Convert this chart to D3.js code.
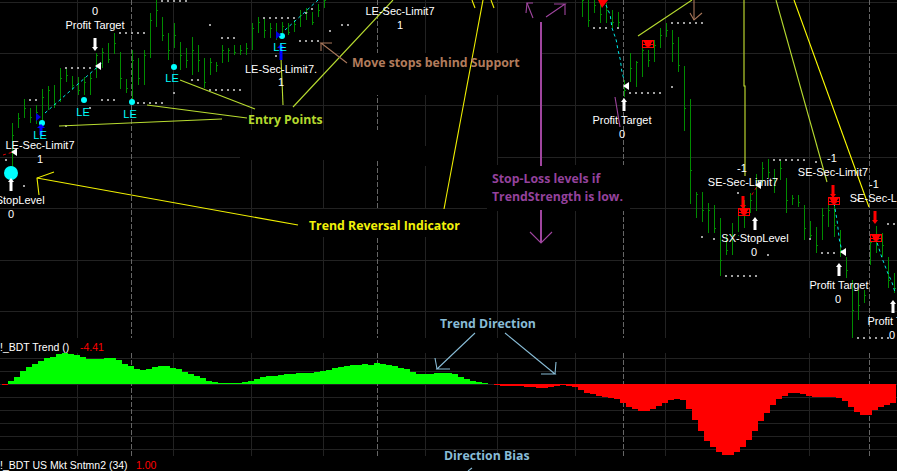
<!DOCTYPE html>
<html><head><meta charset="utf-8">
<script src="https://cdnjs.cloudflare.com/ajax/libs/d3/7.8.5/d3.min.js"></script>
<style>html,body{margin:0;padding:0;background:#000;overflow:hidden}svg{display:block}
text{font-family:"Liberation Sans",Arial,sans-serif}
.note{font-family:"Open Sans","Noto Sans",sans-serif;font-weight:700;font-size:12.3px}</style>
</head><body><svg id="c" width="897" height="471"></svg>
<script>
// ---- OHLC price bars (price levels; null = bar out of the visible price window)
const barHigh=[170,217,227,241,232,235,251,254,255,272,271,264,263,263,267,287,292,297,307,288,261,290,282,290,327,350,323,307,317,298,292,303,295,282,282,278,295,292,295,295,297,317,323,322,317,317,318,317,320,330,332,328,336,345,
null,null,null,null,null,null,null,null,null,null,null,null,null,null,null,null,null,null,null,null,null,null,null,null,null,null,null,null,null,null,null,null,null,null,null,null,null,null,null,null,null,null,
345,345,345,337,337,330,328,260,287,279,297,290,300,312,317,310,303,274,241,148,148,137,135,122,105,117,132,140,147,166,178,181,171,179,162,145,145,135,119,113,132,135,138,110,83,60,50,50,101,114,107,83,67];
const barLow=[163,165,212,222,217,216,217,230,232,238,258,250,245,245,245,262,272,277,286,251,247,240,255,255,282,313,299,280,292,270,272,265,268,252,265,268,277,278,285,285,285,290,307,302,302,300,307,305,308,313,320,315,323,332,
null,null,null,null,null,null,null,null,null,null,null,null,null,null,null,null,null,null,null,null,null,null,null,null,null,null,null,null,null,null,null,null,null,null,null,null,null,null,null,null,null,null,
323,313,327,317,317,312,312,243,258,253,263,273,278,292,303,278,268,209,136,122,118,107,107,64,85,85,108,112,127,129,157,162,147,160,127,135,133,100,100,87,100,113,103,83,62,2,20,37,75,87,83,52,47];
const barOpen=[167,175,214,225,229,221,226,241,250,240,262,262,255,250,258,265,282,287,288,287,260,252,280,262,285,320,320,305,295,297,285,280,290,280,270,272,278,288,290,288,290,292,312,318,308,312,308,314,310,316,325,326,325,333,
null,null,null,null,null,null,null,null,null,null,null,null,null,null,null,null,null,null,null,null,null,null,null,null,null,null,null,null,null,null,null,null,null,null,null,null,null,null,null,null,null,null,
330,340,330,330,326,328,320,255,260,265,278,288,282,295,305,308,297,273,232,140,145,125,130,112,95,90,105,125,130,140,160,172,168,162,160,140,142,134,112,105,102,125,130,105,80,60,40,38,80,98,105,80,60];
const barClose=[166,205,222,232,223,228,243,250,236,262,265,255,250,258,262,285,288,281,297,262,252,280,262,285,320,330,305,290,305,285,280,290,280,258,278,275,290,290,288,290,292,312,318,310,312,306,314,308,316,325,328,318,330,340,
null,null,null,null,null,null,null,null,null,null,null,null,null,null,null,null,null,null,null,null,null,null,null,null,null,null,null,null,null,null,null,null,null,null,null,null,null,null,null,null,null,null,
340,320,335,326,330,318,318,250,272,278,290,280,295,305,310,297,275,232,170,146,130,130,112,80,90,105,125,130,140,160,172,168,155,172,140,142,138,112,105,95,125,130,115,90,70,30,35,45,98,105,95,60,52];
// ---- Trend histogram
const trendValues=[-1,3,7,13,17,20,23,26,27,30,31,30,29,27,25,25,25,26,26,24,20,18,15,14,15,17,18,18,16,15,12,10,8,6,3,2,1,1,1,1,2,3,5,7,8,8,9,10,10,11,11,11,12,13,14,16,17,18,19,19,20,19,21,20,19,18,16,15,12,10,10,10,11,11,11,10,7,5,3,2,1,
-0.4,-1,-2,-2,-2,-2,-3,-3,-4,-4,-3,-2,-1,-2,-3,-6,-9,-10,-12,-13,-14,-15,-19,-23,-25,-27,-27,-25,-22,-19,-16,-15,-16,-25,-36,-47,-57,-63,-68,-71,-71,-68,-63,-56,-47,-37,-29,-21,-15,-12,-9,-9,-10,-12,-13,-13,-13,-13,-14,-17,-23,-28,-31,-31,-26,-23,-21,-19];
// ---- Grid
const priceGrid=[338,287,235,183,132,80,29];
const trendGrid=[26,13,0,-13,-26,-39,-52,-65];
const solidTimes=[12,28,41,53,70,82,95,110,134];
const dashedTimes=[21,62,103,144];
// ---- Stop dots: [first bar, last bar, level]
const stopRuns=[[10,14,272],[19,23,307],[4,5,240],[16,18,240],[22,26,237],[34,39,250],[31,32,260],[28,28,247],[26,30,339],[34,34,315],[36,38,302],[43,48,322],[45,45,284],[49,49,299],[0,0,180],[3,3,154],[10,10,214],[14,14,232],[50,52,299],[54,54,309],[56,57,315],[50,50,327],[51,51,331],[98,100,312],[102,102,312],[104,109,247],[111,111,253],[111,116,317],[128,133,180],[135,135,178],[120,125,64],[116,116,103],[118,118,101],[122,122,147],[127,127,85],[136,138,87],[134,134,101],[142,142,140],[147,148,116],[142,147,2]];
// ---- Long entries [bar, level], short entries [bar, level]
const longEntries=[[6,217],[13,240],[21,238],[28,273],[46,304]];
const shortEntries=[[107,296],[123,128],[138,139],[145,102]];
// ---- Stop trails [bar, level]
const cyanTrails=[[[6.5,227],[16,277]],[[46.5,310],[48,318],[52,340]],
 [[100,335],[100.7,325],[101,312],[101.7,300],[102,290],[102.4,280],[102.6,270],[103,260]],
 [[138,137],[138.5,120],[138.9,100],[139.4,87]],[[145.2,97],[146,82],[146.9,68],[147.7,57],[148.2,47]]];
const redTrails=[[[-0.5,185],[1.2,188]],[[124.3,145],[125.3,155]]];
// ---- Text labels
const labels=[["0",95,11],["Profit Target",95,25],["LE-Sec-Limit7",40,145],["1",40,159],["SX-StopLevel",11,200],["0",11,214],
["LE-Sec-Limit7.",281,69],["1",281,82],["LE-Sec-Limit7",400,11],["1",400,25],["Profit Target",622,120],["0",622,134],
["-1",742,168],["SE-Sec-Limit7",743,182],["SX-StopLevel",755,238],["0",754,252],["-1",832,158],["SE-Sec-Limit7",833,172],
["-1",874,184],["SE-Sec-Limit7",885,198],["Profit Target",897,321],["Profit Target",839,285],["0",838,299],["0",892,335]];
const leLabels=[[40,135],[83,112],[130,114],[172,78],[280,47]];
const whiteUp=[[11,178],[624,98],[755,217],[839,263],[893,300]];
const whiteDown=[[95,38]];
const whiteLeft=[[14,152],[98,66],[626,86],[758,185],[843,252]];
const redDown=[[743,196],[833,185],[875,211]];
const notes=[["Entry Points",248,124,"#b4d82e"],["Trend Reversal Indicator",309,230,"#f2f20a"],["Move stops behind Support",352,67,"#b27c5c"],
["Stop-Loss levels if",492,183,"#94429c"],["TrendStrength is low.",492,201,"#94429c"],["Trend Direction",440,328,"#88bcd6"],["Direction Bias",444,460,"#88bcd6"]];
const noteLines=[
 ["#b8dc30",[[59,126],[222,119]]],["#b8dc30",[[147,105],[247,118]]],["#b8dc30",[[180,80],[255,109]]],
 ["#b8dc30",[[281,58],[283,105]]],["#b8dc30",[[293,107],[393,0]]],["#b8dc30",[[638,36],[692,0]]],
 ["#c8e432",[[744,0],[744,86],[745,86],[745,176]]],["#b8dc30",[[776,0],[827,182]]],["#ffff00",[[794,0],[869,207]]],
 ["#f0f000",[[37,178],[298,225]]],["#f0f000",[[54,172],[37,178],[39,195]]],["#f0f000",[[444,209],[483,0]]],["#f0f000",[[472,0],[475,8]]],["#f0f000",[[491,0],[494,8]]],
 ["#a0459f",[[533,18],[527,3],[533,3]]],["#a0459f",[[527,3],[526,13]]],["#a0459f",[[546,17],[565,4],[554,4]]],["#a0459f",[[565,4],[565,15]]],["#a0459f",[[615,97],[620,127]]],
 ["#a0459f",[[530,232],[541,243],[552,232]]],
 ["#a8765a",[[347,63],[321,43],[332,43]]],["#a8765a",[[321,43],[321,51]]],["#a8765a",[[694,0],[694,20]]],["#a8765a",[[690,13],[694,20],[702,13]]],
 ["#88bcd6",[[475,333],[437,369],[450,369]]],["#88bcd6",[[437,369],[435,358]]],["#88bcd6",[[505,333],[555,374],[541,374]]],["#88bcd6",[[555,374],[556,362]]],["#88bcd6",[[468,471],[472,468]]]];
const noteBars=[[541,22,166],[541,210,243]];
const masks=[[240,130,147,30],[387,146,110,20],[340,53,200,42],[487,165,143,46],[302,209,185,28],[543,165,90,5]];

const svg=d3.select("#c");
svg.append("rect").attr("width",897).attr("height",471).attr("fill","#000");
const xBar=d3.scaleLinear().domain([0,148]).range([6,894]);
const yPrice=d3.scaleLinear().domain([0,340]).range([340,0]);
const xHist=d3.scaleBand().domain(d3.range(trendValues.length)).range([2,896]);
const yTrend=d3.scaleLinear().domain([-71,31]).range([455,353]);
const crisp=s=>s.attr("shape-rendering","crispEdges");
const grid=crisp(svg.append("g").attr("stroke","#222").attr("stroke-width",1));
grid.selectAll(".a").data(priceGrid).join("line").attr("class","a").attr("x1",0).attr("x2",897).attr("y1",d=>Math.round(yPrice(d))+.5).attr("y2",d=>Math.round(yPrice(d))+.5);
grid.selectAll(".b").data(trendGrid).join("line").attr("class","b").attr("x1",0).attr("x2",897).attr("y1",d=>Math.round(yTrend(d))+.5).attr("y2",d=>Math.round(yTrend(d))+.5);
const xT=d=>Math.round(xBar(d))-1.5+.5;
[[0,338],[353,456]].forEach(([a,b],k)=>{
 grid.selectAll(".s"+k).data(solidTimes).join("line").attr("class","s"+k).attr("x1",xT).attr("x2",xT).attr("y1",a).attr("y2",b);
 grid.selectAll(".d"+k).data(dashedTimes).join("line").attr("class","d"+k).attr("x1",xT).attr("x2",xT).attr("y1",a).attr("y2",b).attr("stroke","#666").attr("stroke-dasharray","5 2");
});
crisp(svg.append("g")).selectAll("rect").data(masks).join("rect").attr("x",d=>d[0]).attr("y",d=>d[1]).attr("width",d=>d[2]).attr("height",d=>d[3]).attr("fill","#000");
// histogram
crisp(svg.append("g")).selectAll("rect").data(trendValues).join("rect")
 .attr("x",(d,i)=>xHist(i)).attr("width",xHist.bandwidth()+.3)
 .attr("y",d=>d>=0?yTrend(d):yTrend(0)).attr("height",d=>Math.abs(yTrend(d)-yTrend(0)))
 .attr("fill",d=>d>=0?"#00ff00":"#ff0000");
// price bars
const bars=crisp(svg.append("g").attr("stroke","#008c00").attr("stroke-width",1));
barHigh.forEach((h,i)=>{ if(h==null) return;
 const x=Math.round(xBar(i))+.5;
 bars.append("line").attr("x1",x).attr("x2",x).attr("y1",yPrice(h)).attr("y2",yPrice(barLow[i]));
 bars.append("line").attr("x1",x-1).attr("x2",x).attr("y1",Math.round(yPrice(barOpen[i]))+.5).attr("y2",Math.round(yPrice(barOpen[i]))+.5);
 bars.append("line").attr("x1",x).attr("x2",x+1).attr("y1",Math.round(yPrice(barClose[i]))+.5).attr("y2",Math.round(yPrice(barClose[i]))+.5);
});
// stop dots
const dotData=stopRuns.flatMap(([a,b,l])=>d3.range(a,b+1).map(i=>[i,l]));
crisp(svg.append("g")).selectAll("rect").data(dotData).join("rect").attr("x",d=>xBar(d[0])-1).attr("y",d=>yPrice(d[1])-1).attr("width",2).attr("height",2).attr("fill","#a0a0a0");
// trails
const trail=d3.line().x(d=>xBar(d[0])).y(d=>yPrice(d[1]));
svg.append("g").attr("fill","none").attr("stroke","#00e8e8").attr("stroke-dasharray","3 3").selectAll("path").data(cyanTrails).join("path").attr("d",trail);
svg.append("g").attr("fill","none").attr("stroke","#e00000").attr("stroke-dasharray","3 3").selectAll("path").data(redTrails).join("path").attr("d",trail);
// note lines
const nl=d3.line();
svg.append("g").attr("fill","none").selectAll("path").data(noteLines).join("path").attr("d",d=>nl(d[1])).attr("stroke",d=>d[0]).attr("stroke-width",1.1);
svg.append("g").selectAll("line").data(noteBars).join("line").attr("x1",d=>d[0]).attr("x2",d=>d[0]).attr("y1",d=>d[1]).attr("y2",d=>d[2]).attr("stroke","#a0459f").attr("stroke-width",2);
// entry markers
const g=svg.append("g");
g.selectAll(".le").data(longEntries).join("circle").attr("class","le").attr("cx",d=>xBar(d[0])).attr("cy",d=>yPrice(d[1])).attr("r",3).attr("fill","#00ffff");
g.append("circle").attr("cx",11).attr("cy",173).attr("r",7).attr("fill","#00ffff");
[[37,117],[277,35]].forEach(([x,y])=>g.append("path").attr("d",d3.line()([[x-1,y-4],[x+4,y],[x-1,y+4]])).attr("fill","#0000e0"));
[[41,124,11],[281,44,16]].forEach(([x,y,h])=>{g.append("rect").attr("x",x-1.5).attr("y",y+3).attr("width",3).attr("height",h-3).attr("fill","#0000ff");
 g.append("path").attr("d",d3.line()([[x-4,y+4],[x,y],[x+4,y+4]])).attr("fill","#0000ff");});
shortEntries.forEach(([b,l])=>{const x=xBar(b),y=yPrice(l);
 const m=crisp(g.append("g").attr("stroke","#ff0000").attr("fill","none"));
 m.append("rect").attr("x",x-5.5).attr("y",y-3.5).attr("width",11).attr("height",7);
 m.append("line").attr("x1",x-5.5).attr("x2",x+5.5).attr("y1",y).attr("y2",y);
 g.append("path").attr("d",d3.line()([[x-5,y-3],[x+5,y-3],[x,y+3]])).attr("fill","#ff0000");
 g.append("circle").attr("cx",x).attr("cy",y).attr("r",3).attr("fill","#ff0000");});
g.append("path").attr("d",d3.line()([[598,0],[608,0],[602,8]])).attr("fill","#ff0000");
// block arrows
const up=([x,y],c)=>g.append("path").attr("d",d3.line()([[x,y],[x+3,y+4],[x+1.5,y+4],[x+1.5,y+13],[x-1.5,y+13],[x-1.5,y+4],[x-3,y+4]])).attr("fill",c);
const down=([x,y],c)=>g.append("path").attr("d",d3.line()([[x,y+13],[x+3,y+9],[x+1.5,y+9],[x+1.5,y],[x-1.5,y],[x-1.5,y+9],[x-3,y+9]])).attr("fill",c);
whiteUp.forEach(d=>up(d,"#fff")); whiteDown.forEach(d=>down(d,"#fff")); redDown.forEach(d=>down(d,"#ff0000"));
whiteLeft.forEach(([x,y])=>g.append("path").attr("d",d3.line()([[x-3,y],[x+3,y-4],[x+3,y+4]])).attr("fill","#fff"));
// texts
const t=svg.append("g");
t.selectAll(".l").data(labels).join("text").attr("class","l").attr("x",d=>d[1]).attr("y",d=>d[2]+4).attr("text-anchor","middle").attr("fill","#fff").attr("font-size",11).text(d=>d[0]);
t.selectAll(".e").data(leLabels).join("text").attr("class","e").attr("x",d=>d[0]).attr("y",d=>d[1]+4).attr("text-anchor","middle").attr("fill","#00ffff").attr("font-size",11).text("LE");
t.selectAll(".n").data(notes).join("text").attr("class","note").attr("x",d=>d[1]).attr("y",d=>d[2]).attr("fill",d=>d[3]).text(d=>d[0]);
const pane=[["!_BDT Trend ()",0,351,"#fff"],["-4.41",80,351,"#ff0000"],["!_BDT US Mkt Sntmn2 (34)",0,469,"#fff"],["1.00",136,469,"#ff0000"]];
t.selectAll(".p").data(pane).join("text").attr("class","p").attr("x",d=>d[1]).attr("y",d=>d[2]).attr("fill",d=>d[3]).attr("font-size",10.5).text(d=>d[0]);
</script></body></html>
